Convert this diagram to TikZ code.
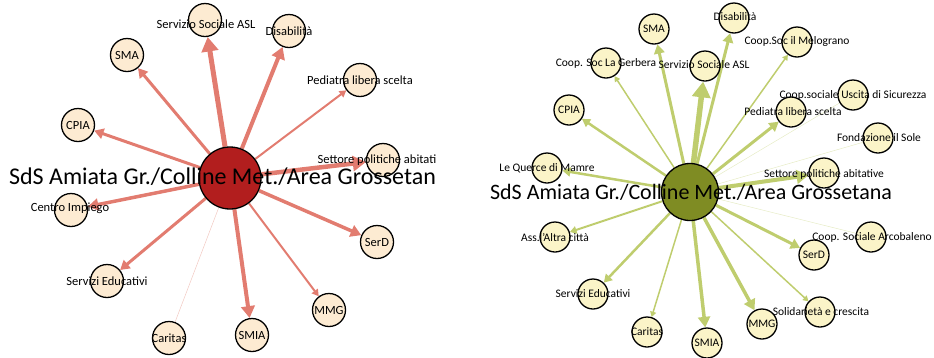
\documentclass[tikz,border=0pt]{standalone}
\usepackage{fontspec}
\setmainfont{Carlito}
\usetikzlibrary{arrows.meta,backgrounds}
\definecolor{edgeL}{HTML}{E27C70}
\definecolor{faintL}{HTML}{F2C9C2}
\definecolor{hubLc}{HTML}{B21E1E}
\definecolor{fillL}{HTML}{FDEBD2}
\definecolor{edgeR}{HTML}{BFCD6E}
\definecolor{faintR}{HTML}{E6ECC6}
\definecolor{hubRc}{HTML}{7F8C23}
\definecolor{fillR}{HTML}{FBF4C8}
\tikzset{
  nd/.style={circle,draw=black,line width=1.3pt,inner sep=0pt,minimum size=#1},
  ndL/.style={nd=33pt,fill=fillL},
  ndR/.style={nd=30pt,fill=fillR},
  lblL/.style={font=\fontsize{12.5}{13}\selectfont,inner sep=0pt,text=black},
  lblR/.style={font=\fontsize{11.5}{12}\selectfont,inner sep=0pt,text=black},
  ed/.style={line width=#1pt,-{Triangle[length=1.5pt 2.6,width=1.5pt 3]}},
  eL/.style={ed=#1,draw=edgeL},
  eR/.style={ed=#1,draw=edgeR},
  fL/.style={line width=0.5pt,draw=faintL},
  fR/.style={line width=0.5pt,draw=faintR},
}
\begin{document}
\begin{tikzpicture}[x=1pt,y=-1pt]
\useasboundingbox (0,0) rectangle (934,357);
% ---------- left network ----------
\node[nd=62pt,fill=hubLc] (hubL) at (230,178) {};
\node[ndL] (ssaL) at (205,20) {};
\node[ndL] (disL) at (289,31) {};
\node[ndL] (smaL) at (127,55) {};
\node[ndL] (pedL) at (360,80) {};
\node[ndL] (cpiaL) at (78,125) {};
\node[ndL] (setL) at (383,160) {};
\node[ndL] (cenL) at (71,210) {};
\node[ndL] (serdL) at (377,242) {};
\node[ndL] (eduL) at (107,281) {};
\node[ndL] (carL) at (169,338) {};
\node[ndL] (smiaL) at (252,335) {};
\node[ndL] (mmgL) at (329,310) {};
\begin{scope}[on background layer]
\draw[eL=5] (hubL) -- (ssaL);
\draw[eL=4] (hubL) -- (disL);
\draw[eL=3] (hubL) -- (smaL);
\draw[eL=2] (hubL) -- (pedL);
\draw[eL=3] (hubL) -- (cpiaL);
\draw[eL=4.5] (hubL) -- (setL);
\draw[eL=3.5] (hubL) -- (cenL);
\draw[eL=3.5] (hubL) -- (serdL);
\draw[eL=3] (hubL) -- (eduL);
\draw[fL] (hubL) -- (carL);
\draw[eL=4] (hubL) -- (smiaL);
\draw[eL=2] (hubL) -- (mmgL);
\end{scope}
\node[lblL] (ssaLt) at (206,24) {Servizio Sociale ASL};
\node[lblL] (disLt) at (289,31) {Disabilità};
\node[lblL] (smaLt) at (smaL) {SMA};
\node[lblL] (pedLt) at (360,80) {Pediatra libera scelta};
\node[lblL] (cpiaLt) at (cpiaL) {CPIA};
\node[lblL] (setLt) at (377,160) {Settore politiche abitati};
\node[lblL] (cenLt) at (70,208) {Centro Impiego};
\node[lblL] (serdLt) at (serdL) {SerD};
\node[lblL] (eduLt) at (107,281) {Servizi Educativi};
\node[lblL] (carLt) at (169,338) {Caritas};
\node[lblL] (smiaLt) at (smiaL) {SMIA};
\node[lblL] (mmgLt) at (mmgL) {MMG};
\node[font=\fontsize{24}{26}\selectfont,inner sep=0pt,anchor=base] (hubLt) at (222.5,184) {SdS Amiata Gr./Colline Met./Area Grossetan};
% ---------- right network ----------
\node[nd=57pt,fill=hubRc] (hubR) at (690,192) {};
\node[ndR] (smaR) at (654,29) {};
\node[ndR] (disR) at (734,18) {};
\node[ndR] (melR) at (797,42) {};
\node[ndR] (gerR) at (606,63) {};
\node[ndR] (ssaR) at (705,66) {};
\node[ndR] (cpiaR) at (569,110) {};
\node[ndR] (uscR) at (853,95) {};
\node[ndR] (pedR) at (791,112) {};
\node[ndR] (fonR) at (878,138) {};
\node[ndR] (queR) at (547,168) {};
\node[ndR] (setR) at (824,173) {};
\node[ndR] (altR) at (555,237) {};
\node[ndR] (arcR) at (871,237) {};
\node[ndR] (serdR) at (814,255) {};
\node[ndR] (eduR) at (593,294) {};
\node[ndR] (solR) at (820,312) {};
\node[ndR] (mmgR) at (762,324) {};
\node[ndR] (carR) at (647,332) {};
\node[ndR] (smiaR) at (707,343) {};
\begin{scope}[on background layer]
\draw[eR=3] (hubR) -- (smaR);
\draw[eR=3] (hubR) -- (disR);
\draw[eR=1.5] (hubR) -- (melR);
\draw[eR=1.5] (hubR) -- (gerR);
\draw[eR=5.5] (hubR) -- (ssaR);
\draw[eR=2.5] (hubR) -- (cpiaR);
\draw[fR] (hubR) -- (uscR);
\draw[eR=3] (hubR) -- (pedR);
\draw[fR] (hubR) -- (fonR);
\draw[eR=2.5] (hubR) -- (queR);
\draw[eR=4] (hubR) -- (setR);
\draw[eR=2] (hubR) -- (altR);
\draw[fR] (hubR) -- (arcR);
\draw[eR=3] (hubR) -- (serdR);
\draw[eR=2.5] (hubR) -- (eduR);
\draw[eR=1.5] (hubR) -- (solR);
\draw[eR=3.5] (hubR) -- (mmgR);
\draw[eR=1.5] (hubR) -- (carR);
\draw[eR=3.5] (hubR) -- (smiaR);
\end{scope}
\node[lblR] (smaRt) at (smaR) {SMA};
\node[lblR] (disRt) at (735,17) {Disabilità};
\node[lblR] (melRt) at (797,41) {Coop.Soc il Melograno};
\node[lblR] (gerRt) at (606,63) {Coop. Soc La Gerbera};
\node[lblR] (ssaRt) at (704,65) {Servizio Sociale ASL};
\node[lblR] (cpiaRt) at (cpiaR) {CPIA};
\node[lblR] (uscRt) at (853,95) {Coop.sociale Uscita di Sicurezza};
\node[lblR] (pedRt) at (793,112) {Pediatra libera scelta};
\node[lblR] (fonRt) at (879,138) {Fondazione il Sole};
\node[lblR] (queRt) at (547,168) {Le Querce di Mamre};
\node[lblR] (setRt) at (824,174) {Settore politiche abitative};
\node[lblR] (altRt) at (555,237) {Ass.l'Altra città};
\node[lblR] (arcRt) at (872,237) {Coop. Sociale Arcobaleno};
\node[lblR] (serdRt) at (serdR) {SerD};
\node[lblR] (eduRt) at (593,294) {Servizi Educativi};
\node[lblR] (solRt) at (821,312) {Solidarietà e crescita};
\node[lblR] (mmgRt) at (mmgR) {MMG};
\node[lblR] (carRt) at (carR) {Caritas};
\node[lblR] (smiaRt) at (smiaR) {SMIA};
\node[font=\fontsize{22}{24}\selectfont,inner sep=0pt,anchor=base] (hubRt) at (691,199) {SdS Amiata Gr./Colline Met./Area Grossetana};
\end{tikzpicture}
\end{document}
